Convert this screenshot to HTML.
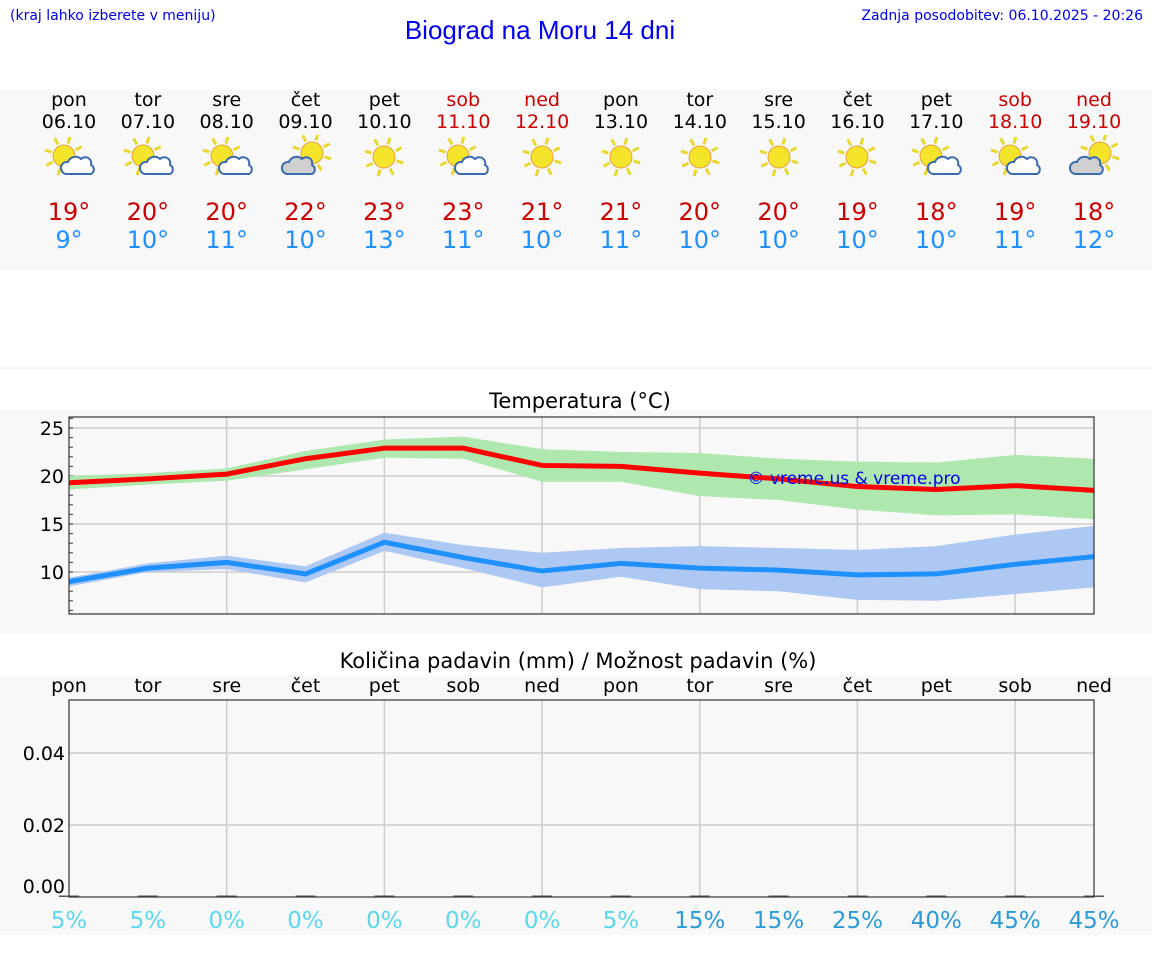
<!DOCTYPE html>
<html><head><meta charset="utf-8"><style>
body{margin:0;width:1152px;height:975px;background:#fff;font-family:"DejaVu Sans","Liberation Sans",sans-serif;position:relative;overflow:hidden}
.abs{position:absolute}
.band{position:absolute;left:0;width:1152px;background:#f8f8f8}
.c{position:absolute;transform:translateX(-50%);white-space:nowrap;text-align:center}
</style></head><body>
<div class="abs" style="left:10px;top:8px;font-size:14px;color:#0000ee">(kraj lahko izberete v meniju)</div>
<div class="abs" style="left:0;width:1080px;top:15px;text-align:center;font-size:26px;color:#0000ee;font-family:'Liberation Sans',sans-serif">Biograd na Moru 14 dni</div>
<div class="abs" style="right:9px;top:8px;font-size:14px;color:#0000ee">Zadnja posodobitev: 06.10.2025 - 20:26</div>
<div class="band" style="top:90px;height:180px"></div>
<div class="band" style="top:365px;height:5px"></div>
<div class="band" style="top:410px;height:225px"></div>
<div class="band" style="top:675px;height:260px"></div>
<div id="hdr"></div>
<svg id="tchart" class="abs" style="left:0;top:380px" width="1152" height="260"></svg>
<svg id="pchart" class="abs" style="left:0;top:640px" width="1152" height="300"></svg>
<script>
const days=["pon","tor","sre","čet","pet","sob","ned","pon","tor","sre","čet","pet","sob","ned"];
const dates=["06.10","07.10","08.10","09.10","10.10","11.10","12.10","13.10","14.10","15.10","16.10","17.10","18.10","19.10"];
const icons=["pc","pc","pc","cl","s","pc","s","s","s","s","s","pc","pc","cl"];
const maxT=[19,20,20,22,23,23,21,21,20,20,19,18,19,18];
const minT=[9,10,11,10,13,11,10,11,10,10,10,10,11,12];
const maxLine=[19.3,19.7,20.2,21.8,22.9,22.9,21.1,21.0,20.3,19.7,18.9,18.6,19.0,18.5];
const maxHi=[20.0,20.3,20.8,22.6,23.8,24.1,22.8,22.5,22.4,21.8,21.5,21.4,22.2,21.8];
const maxLo=[18.6,19.1,19.5,20.7,21.9,21.8,19.4,19.4,17.9,17.5,16.5,15.9,16.0,15.5];
const minLine=[9.0,10.4,11.0,9.8,13.1,11.5,10.1,10.9,10.4,10.2,9.7,9.8,10.8,11.6];
const minHi=[9.4,10.9,11.7,10.6,14.1,12.8,12.0,12.5,12.7,12.5,12.3,12.7,13.9,14.8];
const minLo=[8.5,10.0,10.3,8.9,12.2,10.4,8.4,9.5,8.2,8.0,7.1,7.0,7.7,8.4];
const precip=[0,0,0,0,0,0,0,0,0,0,0,0,0,0];
const prob=[5,5,0,0,0,0,0,5,15,15,25,40,45,45];
const tTicks=[10,15,20,25];
const pTicks=[0,0.02,0.04];
const X0=69,X1=1094;
const xs=i=>X0+(X1-X0)/13*i;
const NS="http://www.w3.org/2000/svg";
function mk(p,tag,at){const e=document.createElementNS(NS,tag);for(const k in at)e.setAttribute(k,at[k]);p.appendChild(e);return e;}
function sun(g,cx,cy,r){
  for(let a=0;a<8;a++){const t=a*Math.PI/4+0.3;mk(g,"line",{x1:cx+Math.cos(t)*(r+2),y1:cy+Math.sin(t)*(r+2),x2:cx+Math.cos(t)*(r+9),y2:cy+Math.sin(t)*(r+9),stroke:"#e8d830","stroke-width":3});}
  mk(g,"circle",{cx:cx,cy:cy,r:r,fill:"#f4e42a",stroke:"#e8a040","stroke-width":1});
}
function cloud(g,cx,cy,fill){
  mk(g,"path",{d:`M${cx-13},${cy+9} a6,6 0 0 1 2,-12 a8,8 0 0 1 13,-3 a6,6 0 0 1 10,6 a5,5 0 0 1 0,9 z`,fill:fill,stroke:"#3a6ab0","stroke-width":2});
}
const hdr=document.getElementById("hdr");
for(let i=0;i<14;i++){
  const x=xs(i),we=(i==5||i==6||i==12||i==13);
  const d=document.createElement("div");d.className="c";d.style.cssText=`left:${x}px;top:89px;font-size:19px;line-height:22px;color:${we?"#cc0000":"#000"}`;
  d.innerHTML=days[i]+"<br>"+dates[i];
  
  
  hdr.appendChild(d);
  const s=document.createElementNS(NS,"svg");s.setAttribute("width",54);s.setAttribute("height",46);s.style.cssText=`position:absolute;left:${x-27}px;top:135px`;
  
  
  if(icons[i]=="s"){sun(s,27,22,11);}
  else if(icons[i]=="pc"){sun(s,22,21,11);cloud(s,37,30,"#fff");}
  else {sun(s,33,18,11);cloud(s,21,30,"#d0d0d0");}
  hdr.appendChild(s);
  const m=document.createElement("div");m.className="c";m.style.cssText=`left:${x}px;top:198px;font-size:24px;line-height:28px;color:#cc0000`;m.textContent=maxT[i]+"°";
  
  
  hdr.appendChild(m);
  const n=document.createElement("div");n.className="c";n.style.cssText=`left:${x}px;top:226px;font-size:24px;line-height:28px;color:#1e90ff`;n.textContent=minT[i]+"°";
  
  
  hdr.appendChild(n);
}
const T=document.getElementById("tchart");
const TY0=417-380,TY1=614-380;
const ty=v=>(572-380)-(v-10)*9.6;
mk(T,"text",{x:580,y:28,"text-anchor":"middle","font-size":21,fill:"#000","font-family":"DejaVu Sans, sans-serif"}).textContent="Temperatura (°C)";
mk(T,"rect",{x:X0,y:TY0,width:X1-X0,height:TY1-TY0,fill:"#f8f8f8"});
for(const v of tTicks){mk(T,"line",{x1:X0,x2:X1,y1:ty(v),y2:ty(v),stroke:"#ccc","stroke-width":1.5});
  const t=mk(T,"text",{x:X0-5,y:ty(v)+7,"text-anchor":"end","font-size":19,"font-family":"DejaVu Sans, sans-serif"});t.textContent=v;}
for(let v=6;v<=26;v++){mk(T,"line",{x1:X0,x2:X0+4,y1:ty(v),y2:ty(v),stroke:"#333","stroke-width":1});}
for(let i=2;i<14;i+=2)mk(T,"line",{x1:xs(i),x2:xs(i),y1:TY0,y2:TY1,stroke:"#ccc","stroke-width":1.5});
function band(hi,lo,col,name){let d="M";hi.forEach((v,i)=>d+=`${xs(i)},${ty(v)} L`);for(let i=13;i>=0;i--)d+=`${xs(i)},${ty(lo[i])} `+(i?"L":"Z");const p=mk(T,"path",{d:d,fill:col});}
function line(a,col,name){const p=mk(T,"polyline",{points:a.map((v,i)=>xs(i)+","+ty(v)).join(" "),fill:"none",stroke:col,"stroke-width":5});}
band(maxHi,maxLo,"#aee8ae","max-temp-range");
band(minHi,minLo,"#adc8f2","min-temp-range");
line(maxLine,"#ff0000","max-temp-line");
line(minLine,"#1e90ff","min-temp-line");
mk(T,"text",{x:854,y:104,"text-anchor":"middle","font-size":17,fill:"#0000ee","font-family":"DejaVu Sans, sans-serif"}).textContent="© vreme.us & vreme.pro";
mk(T,"rect",{x:X0,y:TY0,width:X1-X0,height:TY1-TY0,fill:"none",stroke:"#333","stroke-width":1.2});
const P=document.getElementById("pchart");
const PY0=60,PY1=257;
const py=v=>PY1-v/0.02*72;
mk(P,"text",{x:578,y:28,"text-anchor":"middle","font-size":21,"font-family":"DejaVu Sans, sans-serif"}).textContent="Količina padavin (mm) / Možnost padavin (%)";
mk(P,"rect",{x:X0,y:PY0,width:X1-X0,height:PY1-PY0,fill:"#f8f8f8"});
for(const v of pTicks){if(v>0)mk(P,"line",{x1:X0,x2:X1,y1:py(v),y2:py(v),stroke:"#ccc","stroke-width":1.5});
  mk(P,"text",{x:X0-4,y:py(v)+7-(v==0?11:0),"text-anchor":"end","font-size":19,"font-family":"DejaVu Sans, sans-serif"}).textContent=v.toFixed(2);}
for(let i=2;i<14;i+=2)mk(P,"line",{x1:xs(i),x2:xs(i),y1:PY0,y2:PY1,stroke:"#ccc","stroke-width":1.5});
for(let i=0;i<14;i++){
  const t=mk(P,"text",{x:xs(i),y:52,"text-anchor":"middle","font-size":19,"font-family":"DejaVu Sans, sans-serif"});t.textContent=days[i];
  const b=mk(P,"rect",{x:xs(i)-10,y:py(precip[i])-1.5,width:20,height:PY1-py(precip[i])+1.5,fill:"#555"});
  
  
  const q=mk(P,"text",{x:xs(i),y:288,"text-anchor":"middle","font-size":23,fill:prob[i]>=15?"#2a9ad8":"#5bd8ec","font-family":"DejaVu Sans, sans-serif"});q.textContent=prob[i]+"%";
  
  
}
mk(P,"rect",{x:X0,y:PY0,width:X1-X0,height:PY1-PY0,fill:"none",stroke:"#333","stroke-width":1.2});
</script>
</body></html>
